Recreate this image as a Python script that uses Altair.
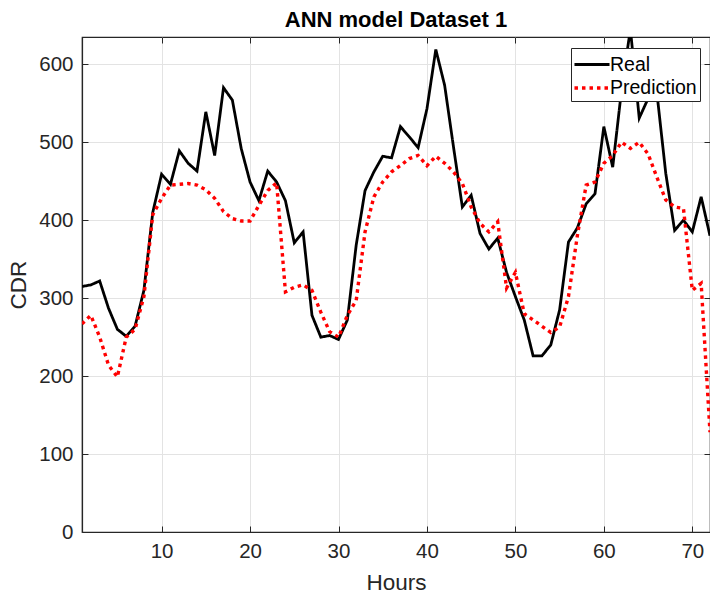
import altair as alt
import pandas as pd

hours = list(range(1, 73))
real = [315, 317, 322, 287, 260, 251, 264, 310, 410, 459,
        446, 489, 473, 463, 539, 483, 570, 554, 492, 449,
        425, 463, 449, 425, 371, 385, 278, 250, 252, 247,
        272, 368, 438, 462, 482, 480, 520, 507, 493, 543,
        619, 573, 494, 417, 432, 383, 363, 377, 333, 302,
        272, 226, 226, 240, 285, 372, 390, 421, 434, 520,
        468, 567, 645, 531, 556, 563, 460, 387, 400, 385,
        430, 380]
prediction = [267, 278, 250, 214, 199, 250, 260, 302, 407, 428,
              445, 446, 447, 445, 439, 428, 411, 402, 399, 399,
              419, 438, 448, 308, 314, 317, 310, 282, 257, 250,
              278, 297, 385, 430, 449, 462, 470, 479, 483, 470,
              482, 473, 462, 447, 417, 396, 385, 398, 313, 333,
              280, 272, 264, 256, 263, 302, 380, 445, 449, 473,
              483, 500, 492, 500, 485, 455, 426, 417, 415, 310,
              319, 128]
series_names = ["Real", "Prediction"]
x_ticks = [10, 20, 30, 40, 50, 60, 70]
y_ticks = [0, 100, 200, 300, 400, 500, 600]

df = pd.DataFrame({
    "Hours": hours * 2,
    "CDR": real + prediction,
    "Series": ["Real"] * len(hours) + ["Prediction"] * len(hours),
})

FONT = "Liberation Sans"
INK = "#262626"
xscale = alt.Scale(domain=[1, 72], nice=False)
yscale = alt.Scale(domain=[0, 635], nice=False)

main = alt.Chart(df).mark_line(clip=True, strokeCap="butt", strokeJoin="miter").encode(
    x=alt.X("Hours:Q", scale=xscale,
            axis=alt.Axis(values=x_ticks, title="Hours", orient="bottom",
                          ticks=False, labelPadding=9, titlePadding=10)),
    y=alt.Y("CDR:Q", scale=yscale,
            axis=alt.Axis(values=y_ticks, title="CDR", orient="left",
                          ticks=False, labelPadding=9, titlePadding=8)),
    color=alt.Color("Series:N",
                    scale=alt.Scale(domain=series_names, range=["#000000", "#ff0000"]),
                    legend=alt.Legend(title=None, orient="none", legendX=489, legendY=11,
                                      symbolType="M-1.46,0H1.46", symbolSize=576,
                                      symbolOffset=4, symbolFillColor="transparent",
                                      symbolStrokeWidth=3, labelFontSize=19.5,
                                      labelFont=FONT, labelColor="#000000",
                                      fillColor="white", strokeColor=INK,
                                      padding=3, rowPadding=0, labelOffset=4,
                                      labelLimit=200)),
    strokeDash=alt.StrokeDash("Series:N",
                              scale=alt.Scale(domain=series_names, range=[[1, 0], [3.5, 4]]),
                              legend=None),
    strokeWidth=alt.StrokeWidth("Series:N",
                                scale=alt.Scale(domain=series_names, range=[2.8, 3.4]),
                                legend=None),
    order=alt.Order("Hours:Q"),
)


def tick_layer(xorient, yorient):
    tick_axis = dict(labels=False, grid=False, domain=False, ticks=True, tickSize=6,
                     tickColor=INK, tickWidth=1, offset=-6, title=None)
    return alt.Chart(df).mark_point(opacity=0).encode(
        x=alt.X("Hours:Q", scale=xscale, axis=alt.Axis(values=x_ticks, orient=xorient, **tick_axis)),
        y=alt.Y("CDR:Q", scale=yscale, axis=alt.Axis(values=y_ticks, orient=yorient, **tick_axis)),
    )


chart = alt.layer(
    main, tick_layer("bottom", "left"), tick_layer("top", "right")
).resolve_axis(x="independent", y="independent").properties(
    width=628,
    height=495,
    title=alt.Title("ANN model Dataset 1", fontSize=22, font=FONT, fontWeight="bold",
                    color="#000000", anchor="middle", offset=-6),
    autosize=alt.AutoSizeParams(type="none"),
    padding={"left": 82, "top": 37, "right": 0, "bottom": 65},
).configure_view(
    stroke=INK, strokeWidth=1.2
).configure_axis(
    labelFont=FONT, titleFont=FONT, labelFontSize=20.5, titleFontSize=22.5,
    labelColor=INK, titleColor=INK, titleFontWeight="normal",
    gridColor="#e3e3e3", gridWidth=1, domainColor=INK, domainWidth=1.2,
)

chart.save("out.html", embed_options={"renderer": "svg", "actions": False})
